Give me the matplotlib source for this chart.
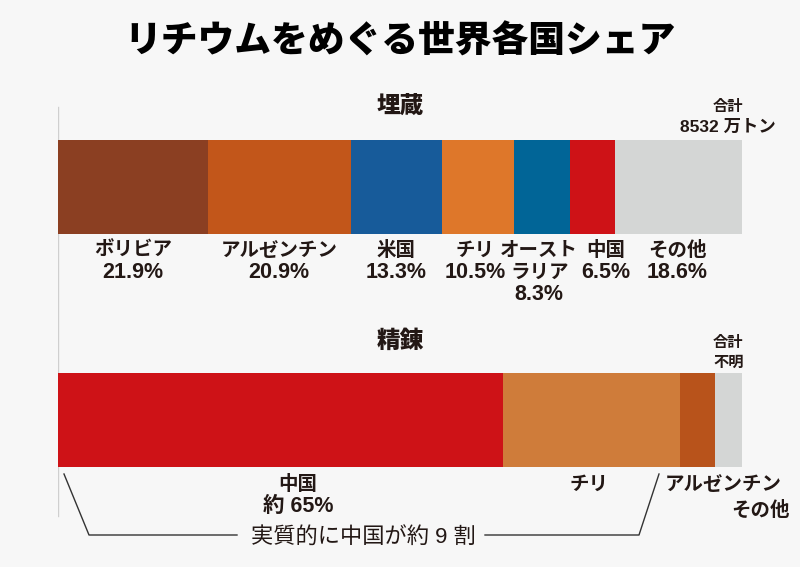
import matplotlib.pyplot as plt

plt.rcParams['font.family'] = ['Noto Sans CJK JP', 'DejaVu Sans']
num_family = ['Liberation Sans', 'Noto Sans CJK JP']

# data
reserve_names = ['ボリビア', 'アルゼンチン', '米国', 'チリ', 'オースト\nラリア', '中国', 'その他']
reserve_share = [21.9, 20.9, 13.3, 10.5, 8.3, 6.5, 18.6]
reserve_colors = ['#8b3f22', '#c2561a', '#175b9a', '#de772a', '#016597', '#ce1217', '#d4d6d5']

refine_names = ['中国', 'チリ', 'アルゼンチン', 'その他']
refine_share = [65.0, 26.0, 5.0, 4.0]
refine_colors = ['#ce1217', '#cf7c3a', '#b8531b', '#d4d6d5']

bg = '#f7f7f7'
ink = '#231815'

fig = plt.figure(figsize=(8, 5.67), dpi=100, facecolor=bg)
# axes: x = percent (0..100 -> 58..742 px), y = pixel rows from the top
ax = fig.add_axes([58 / 800, 0, 684 / 800, 1])
ax.set_xlim(0, 100)
ax.set_ylim(567, 0)
ax.axis('off')


def px(x):
    # pixel column -> percent axis
    return (x - 58) / 6.84


def label(x, y, s, size=14, **kw):
    ax.text(x, y, s, ha='center', va='center', fontsize=size, fontweight='bold',
            color=ink, **kw)


# left guide line
ax.plot([0, 0], [107, 516], color='#cfcfcf', lw=1, zorder=0)

# title
ax.text(50, 42, 'リチウムをめぐる世界各国シェア', ha='center', va='center',
        fontsize=26.5, fontweight='black', color='black')

# --- reserves ---
ax.text(50, 106, '埋蔵', ha='center', va='center', fontsize=17, fontweight='black', color=ink)
label(98, 106, '合計', size=11)
label(98, 127, '8532 万トン', size=12.5, family=num_family)

left = 0
top_offsets = [0, 0, 0, -0.4, -0.4, 2.0, -0.2]
for val, col, name, off in zip(reserve_share, reserve_colors, reserve_names, top_offsets):
    ax.barh(187, val, left=left, height=94, color=col, edgecolor='none')
    xc = left + val / 2 + off
    lines = name.split('\n')
    for i, ln in enumerate(lines):
        label(xc, 250 + 22 * i, ln)
    label(xc, 250 + 22 * len(lines), f'{val}%', size=15.5, family=num_family)
    left += val

# --- refining ---
ax.text(50, 341, '精錬', ha='center', va='center', fontsize=17, fontweight='black', color=ink)
label(98, 342, '合計', size=11)
label(98, 362, '不明', size=11)

left = 0
for val, col in zip(refine_share, refine_colors):
    ax.barh(420, val, left=left, height=94, color=col, edgecolor='none')
    left += val

label(refine_share[0] / 2 + 2.6, 484, refine_names[0])
label(refine_share[0] / 2 + 2.6, 507, f'約 {refine_share[0]:.0f}%', size=15.5, family=num_family)
label(refine_share[0] + refine_share[1] / 2 - 0.3, 484, refine_names[1])
label(px(723), 484, refine_names[2])
label(px(760), 510, refine_names[3])

# bracket
ax.plot([px(64), px(89), px(237)], [474, 535, 535], color='#333333', lw=1)
ax.plot([px(485), px(639), px(659)], [535, 535, 474], color='#333333', lw=1)
ax.text(px(363), 538, '実質的に中国が約 9 割', ha='center', va='center',
        fontsize=16, color=ink, family=num_family)

fig.savefig('out.png', dpi=100, facecolor=bg)
